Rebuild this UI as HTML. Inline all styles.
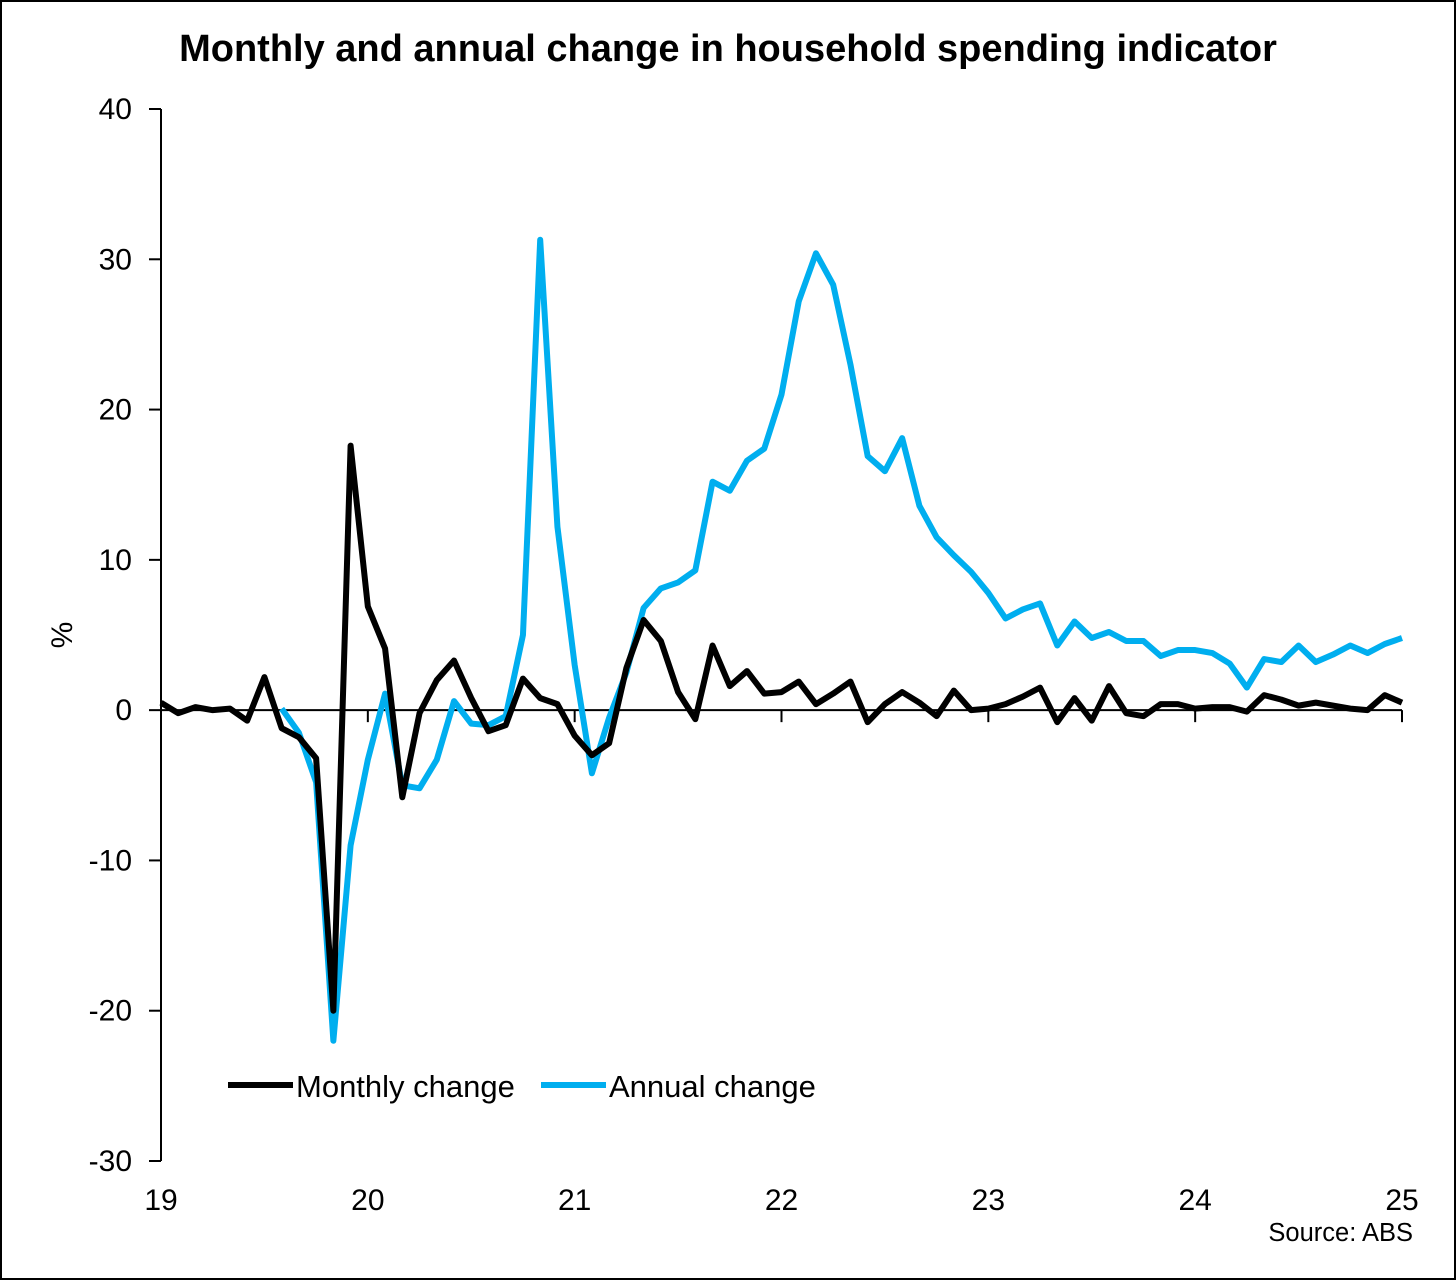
<!DOCTYPE html>
<html><head><meta charset="utf-8">
<style>
html,body{margin:0;padding:0;background:#fff;}
svg{display:block;font-family:"Liberation Sans",Arial,sans-serif;}
</style></head>
<body>
<svg id="chart" width="1456" height="1280" viewBox="0 0 1456 1280">
<rect x="1" y="1" width="1454" height="1278" fill="#fff" stroke="#000" stroke-width="2"/>
<text x="728" y="61" text-anchor="middle" font-size="38" font-weight="bold">Monthly and annual change in household spending indicator</text>
<text transform="translate(72,635) rotate(-90)" text-anchor="middle" font-size="30">%</text>
<g id="axes"></g>
<g id="series"></g>
<g>
<line x1="228" y1="1085" x2="293" y2="1085" stroke="#000" stroke-width="6"/>
<text x="296" y="1097" font-size="31">Monthly change</text>
<line x1="541" y1="1085" x2="606" y2="1085" stroke="#00aeef" stroke-width="6"/>
<text x="609" y="1097" font-size="31">Annual change</text>
</g>
<text x="1413" y="1241" text-anchor="end" font-size="25.5">Source: ABS</text>
</svg>
<script>
const yTicks=[40,30,20,10,0,-10,-20,-30];
const xTickLabels=["19","20","21","22","23","24","25"];
const monthly=[0.5,-0.2,0.2,0.0,0.1,-0.7,2.2,-1.2,-1.8,-3.2,-20.0,17.6,6.9,4.1,-5.8,-0.2,2.0,3.3,0.8,-1.4,-1.0,2.1,0.8,0.4,-1.7,-3.0,-2.2,2.8,6.0,4.6,1.2,-0.6,4.3,1.6,2.6,1.1,1.2,1.9,0.4,1.1,1.9,-0.8,0.4,1.2,0.5,-0.4,1.3,0.0,0.1,0.4,0.9,1.5,-0.8,0.8,-0.7,1.6,-0.2,-0.4,0.4,0.4,0.1,0.2,0.2,-0.1,1.0,0.7,0.3,0.5,0.3,0.1,0.0,1.0,0.5];
const annualStart=7;
const annual=[0.1,-1.5,-4.8,-22.0,-9.0,-3.3,1.1,-5.0,-5.2,-3.3,0.6,-0.9,-1.0,-0.4,5.0,31.3,12.2,3.0,-4.2,-0.5,2.5,6.8,8.1,8.5,9.3,15.2,14.6,16.6,17.4,21.0,27.2,30.4,28.3,23.0,16.9,15.9,18.1,13.6,11.5,10.3,9.2,7.8,6.1,6.7,7.1,4.3,5.9,4.8,5.2,4.6,4.6,3.6,4.0,4.0,3.8,3.1,1.5,3.4,3.2,4.3,3.2,3.7,4.3,3.8,4.4,4.8];

const X0=161,X1=1402,Y40=109,Ym30=1161;
const x=i=>X0+(X1-X0)*i/72;
const y=v=>Y40+(40-v)*(Ym30-Y40)/70;
const NS="http://www.w3.org/2000/svg";
const axes=document.getElementById('axes'),series=document.getElementById('series');
function mk(tag,attrs,parent){const e=document.createElementNS(NS,tag);for(const k in attrs)e.setAttribute(k,attrs[k]);parent.appendChild(e);return e;}
let l=mk('line',{x1:X0,y1:Y40,x2:X0,y2:Ym30,stroke:'#000','stroke-width':2},axes);


yTicks.forEach(v=>{
 const t=mk('line',{x1:X0-12,y1:y(v),x2:X0,y2:y(v),stroke:'#000','stroke-width':2},axes);
 
 
 const tx=mk('text',{x:132,y:y(v)+10,'text-anchor':'end','font-size':30},axes);
 tx.textContent=v;
 
 
});
l=mk('line',{x1:X0,y1:y(0),x2:X1,y2:y(0),stroke:'#000','stroke-width':2},axes);


xTickLabels.forEach((s,k)=>{
 const xx=x(k*12);
 const t=mk('line',{x1:xx,y1:y(0),x2:xx,y2:y(0)+12,stroke:'#000','stroke-width':2},axes);
 
 
 const tx=mk('text',{x:xx,y:1210,'text-anchor':'middle','font-size':30},axes);
 tx.textContent=s;
 
 
});
const pts1=annual.map((v,i)=>x(i+annualStart)+','+y(v)).join(' ');
const p1=mk('polyline',{points:pts1,fill:'none',stroke:'#00aeef','stroke-width':6,'stroke-linejoin':'round'},series);


const pts0=monthly.map((v,i)=>x(i)+','+y(v)).join(' ');
const p0=mk('polyline',{points:pts0,fill:'none',stroke:'#000','stroke-width':6,'stroke-linejoin':'round'},series);


</script>
</body></html>
